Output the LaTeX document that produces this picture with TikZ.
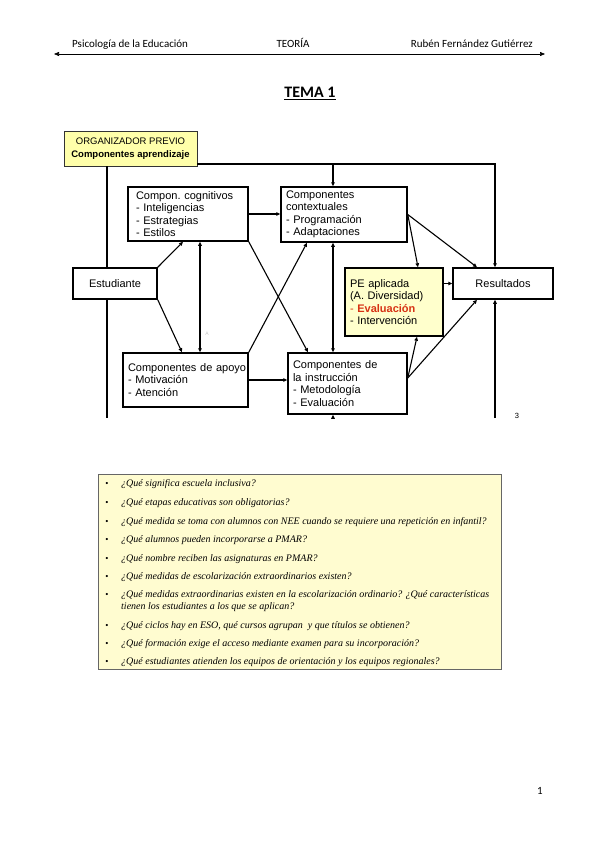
\documentclass[tikz,border=0pt]{standalone}
\usepackage{fontspec}
\setmainfont{Carlito}
\newfontfamily\arialf{Liberation Sans}
\newfontfamily\tnrf{Liberation Serif}
\usetikzlibrary{arrows.meta}
\definecolor{orgyellow}{RGB}{255,255,170}
\definecolor{peyellow}{RGB}{255,255,204}
\definecolor{qyellow}{RGB}{255,252,208}
\definecolor{evalred}{RGB}{215,50,20}
\begin{document}
\begin{tikzpicture}[x=1pt,y=-1pt,
  dbox/.style={draw, line width=1.5pt, fill=white, inner xsep=5pt, inner ysep=0pt, font=\arialf\fontsize{11}{12.5}\selectfont, align=left},
  cbox/.style={draw, line width=1.5pt, fill=white, inner sep=0pt, font=\arialf\fontsize{11}{12.5}\selectfont, align=center},
  conn/.style={line width=1.1pt, -{Triangle[length=4pt,width=3.5pt]}},
  dconn/.style={line width=1.1pt, {Triangle[length=4pt,width=3.5pt]}-{Triangle[length=4pt,width=3.5pt]}},
  plain/.style={line width=1.1pt},
  hdr/.style={inner sep=0pt, font=\fontsize{11}{13}\selectfont},
  qtext/.style={anchor=base west, inner sep=0pt, font=\tnrf\itshape\fontsize{10}{12.5}\selectfont},
  bul/.style={anchor=base, inner sep=0pt, font=\tnrf\fontsize{9}{11}\selectfont},
]
\useasboundingbox (0,0) rectangle (599,848);
\fill[white] (0,0) rectangle (599,848);

% header
\node[hdr, anchor=base west] (h1) at (72,47.5) {Psicología de la Educación};
\node[hdr, anchor=base] (h2) at (293,47.5) {TEORÍA};
\node[hdr, anchor=base east] (h3) at (533,47.5) {Rubén Fernández Gutiérrez};
\coordinate (hl) at (54,54);
\coordinate (hr) at (545,54);
\draw[line width=0.6pt, {Triangle[length=5pt,width=4pt]}-{Triangle[length=5pt,width=4pt]}] (hl) -- (hr);

% title
\node[anchor=base, inner sep=0pt, font=\bfseries\fontsize{16}{19}\selectfont] (tema) at (310,98) {\underline{TEMA 1}};

% diagram boxes
\node[draw=black!80, line width=0.8pt, fill=orgyellow, minimum width=133pt, minimum height=35pt, inner sep=0pt, align=center, font=\arialf\fontsize{9.5}{13}\selectfont] (org) at (130.5,148.5) {ORGANIZADOR PREVIO\\\textbf{Componentes aprendizaje}};
\node[dbox, inner xsep=8pt, text width=104pt, minimum height=54pt] (cog) at (188,214) {Compon.\ cognitivos\\- Inteligencias\\- Estrategias\\- Estilos};
\node[dbox, text width=116pt, minimum height=55pt] (ctx) at (344,214.5) {Componentes\\contextuales\\- Programación\\- Adaptaciones};
\node[cbox, minimum width=84pt, minimum height=31pt] (est) at (115,283.5) {Estudiante};
\node[dbox, fill=peyellow, text width=88pt, minimum height=68pt] (pe) at (394,302) {PE aplicada\\(A. Diversidad)\\\textcolor{evalred}{- \textbf{Evaluación}}\\- Intervención};
\node[cbox, minimum width=100pt, minimum height=31pt] (res) at (503,283.5) {Resultados};
\node[dbox, text width=115pt, minimum height=54pt] (apo) at (185.5,380) {\mbox{Componentes de apoyo}\\- Motivación\\- Atención};
\node[dbox, text width=109pt, minimum height=61pt] (ins) at (347.5,383.5) {Componentes de\\la instrucción\\- Metodología\\- Evaluación};

\coordinate (bl) at (107,418);
\coordinate (bm) at (333,418);
\coordinate (br) at (495,418);
\coordinate (insout) at ([yshift=5.5pt]ins.east);

% connectors
\draw[plain] (107,0 |- org.south) -- (107,0 |- est.north);
\draw[plain] (107,0 |- est.south) -- (bl);
\draw[conn] (org.east |- 0,164) -- (495,164) -- (495,0 |- res.north);
\draw[conn] (333,164) -- (333,0 |- ctx.north);
\draw[conn] (cog.east) -- (cog.east -| ctx.west);
\draw[conn] (est.north east) -- (183,0 |- cog.south);
\draw[conn] (est.south east) -- (182,0 |- apo.north);
\draw[dconn] (200,0 |- apo.north) -- (200,0 |- cog.south);
\draw[conn] (cog.south east) -- (308,0 |- ins.north);
\draw[conn] (apo.north east) -- (307,0 |- ctx.south);
\draw[dconn] (333,0 |- ins.north) -- (333,0 |- ctx.south);
\draw[conn] (apo.east) -- (apo.east -| ins.west);
\draw[conn] (ctx.east) -- (418,0 |- pe.north);
\draw[conn] (ctx.east) -- (477,0 |- res.north);
\draw[conn] (res.west -| pe.east) -- (res.west);
\draw[conn] (insout) -- (417,0 |- pe.south);
\draw[conn] (insout) -- (477,0 |- res.south);
\draw[conn] (br) -- (495,0 |- res.south);
\draw[conn] (bm) -- (333,0 |- ins.south);

\node[inner sep=0pt, font=\arialf\fontsize{7.5}{9}\selectfont] (n3) at (517,416) {3};
\node[inner sep=0pt, text=gray!45, font=\arialf\fontsize{5}{6}\selectfont] (fa) at (207,334) {A};

% questions
\node[draw=black!60, fill=qyellow, line width=0.9pt, minimum width=403pt, minimum height=195pt, inner sep=0pt] (qbox) at (299.5,571.5) {};
\node[bul] (b1) at (107,486) {•};
\node[qtext] (q1) at (121,486) {¿Qué significa escuela inclusiva?};
\node[bul] (b2) at (107,505) {•};
\node[qtext] (q2) at (121,505) {¿Qué etapas educativas son obligatorias?};
\node[bul] (b3) at (107,524) {•};
\node[qtext] (q3) at (121,524) {¿Qué medida se toma con alumnos con NEE cuando se requiere una repetición en infantil?};
\node[bul] (b4) at (107,542) {•};
\node[qtext] (q4) at (121,542) {¿Qué alumnos pueden incorporarse a PMAR?};
\node[bul] (b5) at (107,561) {•};
\node[qtext] (q5) at (121,561) {¿Qué nombre reciben las asignaturas en PMAR?};
\node[bul] (b6) at (107,579) {•};
\node[qtext] (q6) at (121,579) {¿Qué medidas de escolarización extraordinarios existen?};
\node[bul] (b7) at (107,597) {•};
\node[qtext] (q7) at (121,597) {¿Qué medidas extraordinarias existen en la escolarización ordinario? ¿Qué características};
\node[qtext] (q7b) at (121,609) {tienen los estudiantes a los que se aplican?};
\node[bul] (b8) at (107,628) {•};
\node[qtext] (q8) at (121,628) {¿Qué ciclos hay en ESO, qué cursos agrupan\ \ y que títulos se obtienen?};
\node[bul] (b9) at (107,646) {•};
\node[qtext] (q9) at (121,646) {¿Qué formación exige el acceso mediante examen para su incorporación?};
\node[bul] (b10) at (107,664) {•};
\node[qtext] (q10) at (121,664) {¿Qué estudiantes atienden los equipos de orientación y los equipos regionales?};

\node[hdr, anchor=base] (pg) at (540,794) {1};
\end{tikzpicture}
\end{document}
